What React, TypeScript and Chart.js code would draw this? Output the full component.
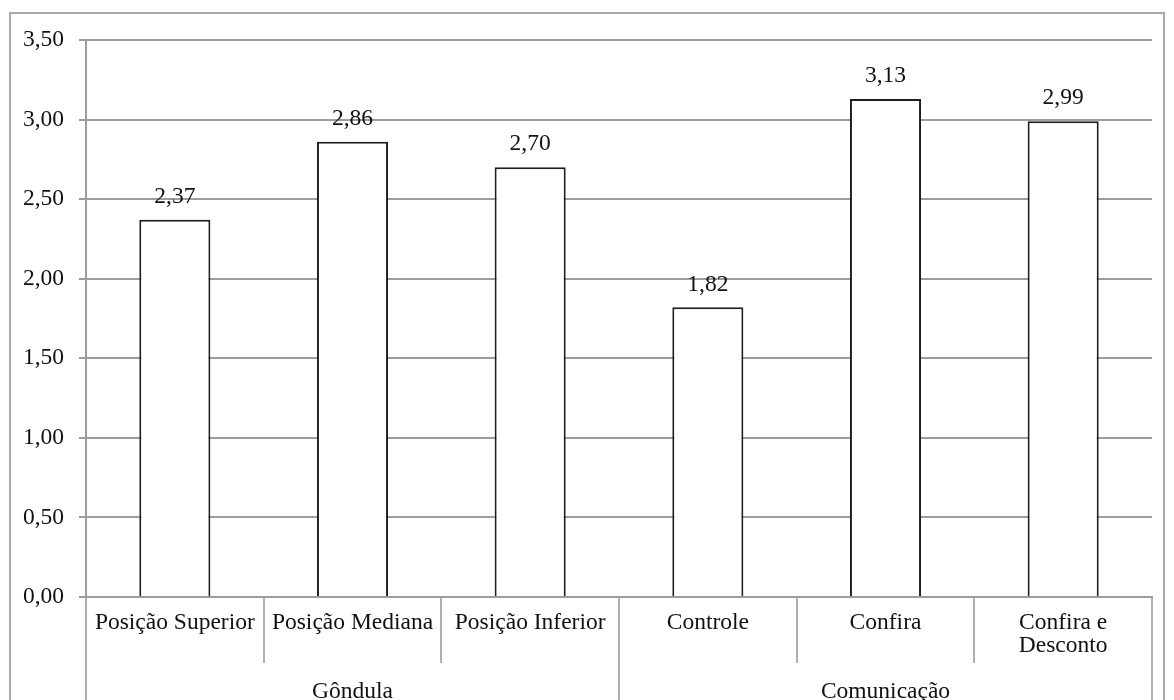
import React, { useEffect, useRef } from "react";
import { Chart, registerables } from "chart.js";

Chart.register(...registerables);

const categories: (string | string[])[] = [
  "Posição Superior",
  "Posição Mediana",
  "Posição Inferior",
  "Controle",
  "Confira",
  ["Confira e", "Desconto"],
];
const values = [2.37, 2.86, 2.7, 1.82, 3.13, 2.99];
const groups = ["Gôndula", "Comunicação"];
const groupSizes = [3, 3];
const yMin = 0;
const yMax = 3.5;
const yStep = 0.5;

const FONT = "'Liberation Serif', 'Times New Roman', serif";
const GRAY = "#9c9ca0";
const TEXT = "#111111";
const FS = 23.5;

const fmt = (v: number) => v.toFixed(2).replace(".", ",");

const overlay = {
  id: "overlay",
  afterDraw(chart: any) {
    const ctx = chart.ctx as CanvasRenderingContext2D;
    const area = chart.chartArea;
    const H = chart.height;
    ctx.save();
    // outer border
    ctx.strokeStyle = "#a8a8a8";
    ctx.lineWidth = 2;
    ctx.strokeRect(2, 5, chart.width - 4, H + 20);
    // separators
    ctx.strokeStyle = GRAY;
    const n = categories.length;
    const w = (area.right - area.left) / n;
    const groupBounds = new Set<number>();
    let acc = 0;
    groupBounds.add(0);
    groupSizes.forEach((s) => {
      acc += s;
      groupBounds.add(acc);
    });
    ctx.lineWidth = 1.6;
    for (let i = 0; i <= n; i++) {
      const x = Math.round(area.left + i * w);
      const yEnd = groupBounds.has(i) ? H : area.bottom + 66;
      ctx.beginPath();
      ctx.moveTo(x, area.bottom);
      ctx.lineTo(x, yEnd);
      ctx.stroke();
    }
    // group labels
    ctx.fillStyle = TEXT;
    ctx.font = `${FS}px ${FONT}`;
    ctx.textAlign = "center";
    ctx.textBaseline = "middle";
    let start = 0;
    groups.forEach((g, gi) => {
      const end = start + groupSizes[gi];
      const cx = area.left + ((start + end) / 2) * w;
      ctx.fillText(g, cx, area.bottom + 95);
      start = end;
    });
    // value labels
    const meta = chart.getDatasetMeta(0);
    meta.data.forEach((bar: any, i: number) => {
      ctx.fillText(fmt(values[i]), bar.x, bar.y - 23);
    });
    ctx.restore();
  },
};

export default function App() {
  const ref = useRef<HTMLCanvasElement>(null);
  useEffect(() => {
    if (!ref.current) return;
    const chart = new Chart(ref.current, {
      type: "bar",
      data: {
        labels: categories as any,
        datasets: [
          {
            data: values,
            backgroundColor: "#ffffff",
            borderColor: "#1e1e1e",
            borderWidth: 2,
            barPercentage: 0.4,
            categoryPercentage: 1,
          },
        ],
      },
      options: {
        animation: false,
        responsive: false,
        maintainAspectRatio: false,
        layout: { padding: { left: 0, top: 32, right: 14, bottom: 0 } },
        plugins: {
          legend: { display: false },
          tooltip: { enabled: false },
        },
        scales: {
          x: {
            grid: { display: false, drawTicks: false },
            border: { display: true, color: GRAY, width: 2 },
            ticks: {
              color: TEXT,
              font: { family: FONT, size: FS, lineHeight: 1.0 },
              padding: 14,
              maxRotation: 0,
              autoSkip: false,
            },
            afterFit: (s: any) => {
              s.height = 103;
            },
          },
          y: {
            min: yMin,
            max: yMax,
            grid: { color: GRAY, lineWidth: 2, tickLength: 7, drawTicks: true },
            border: { display: true, color: GRAY, width: 2 },
            ticks: {
              stepSize: yStep,
              color: TEXT,
              padding: 15,
              font: { family: FONT, size: FS },
              callback: (v: any) => fmt(Number(v)),
            },
            afterFit: (s: any) => {
              s.width = 78;
            },
          },
        },
      },
      plugins: [overlay],
    });
    return () => chart.destroy();
  }, []);
  return (
    <div style={{ width: 1158, height: 692 }}>
      <canvas ref={ref} width={1158} height={692} style={{ display: "block" }} />
    </div>
  );
}
